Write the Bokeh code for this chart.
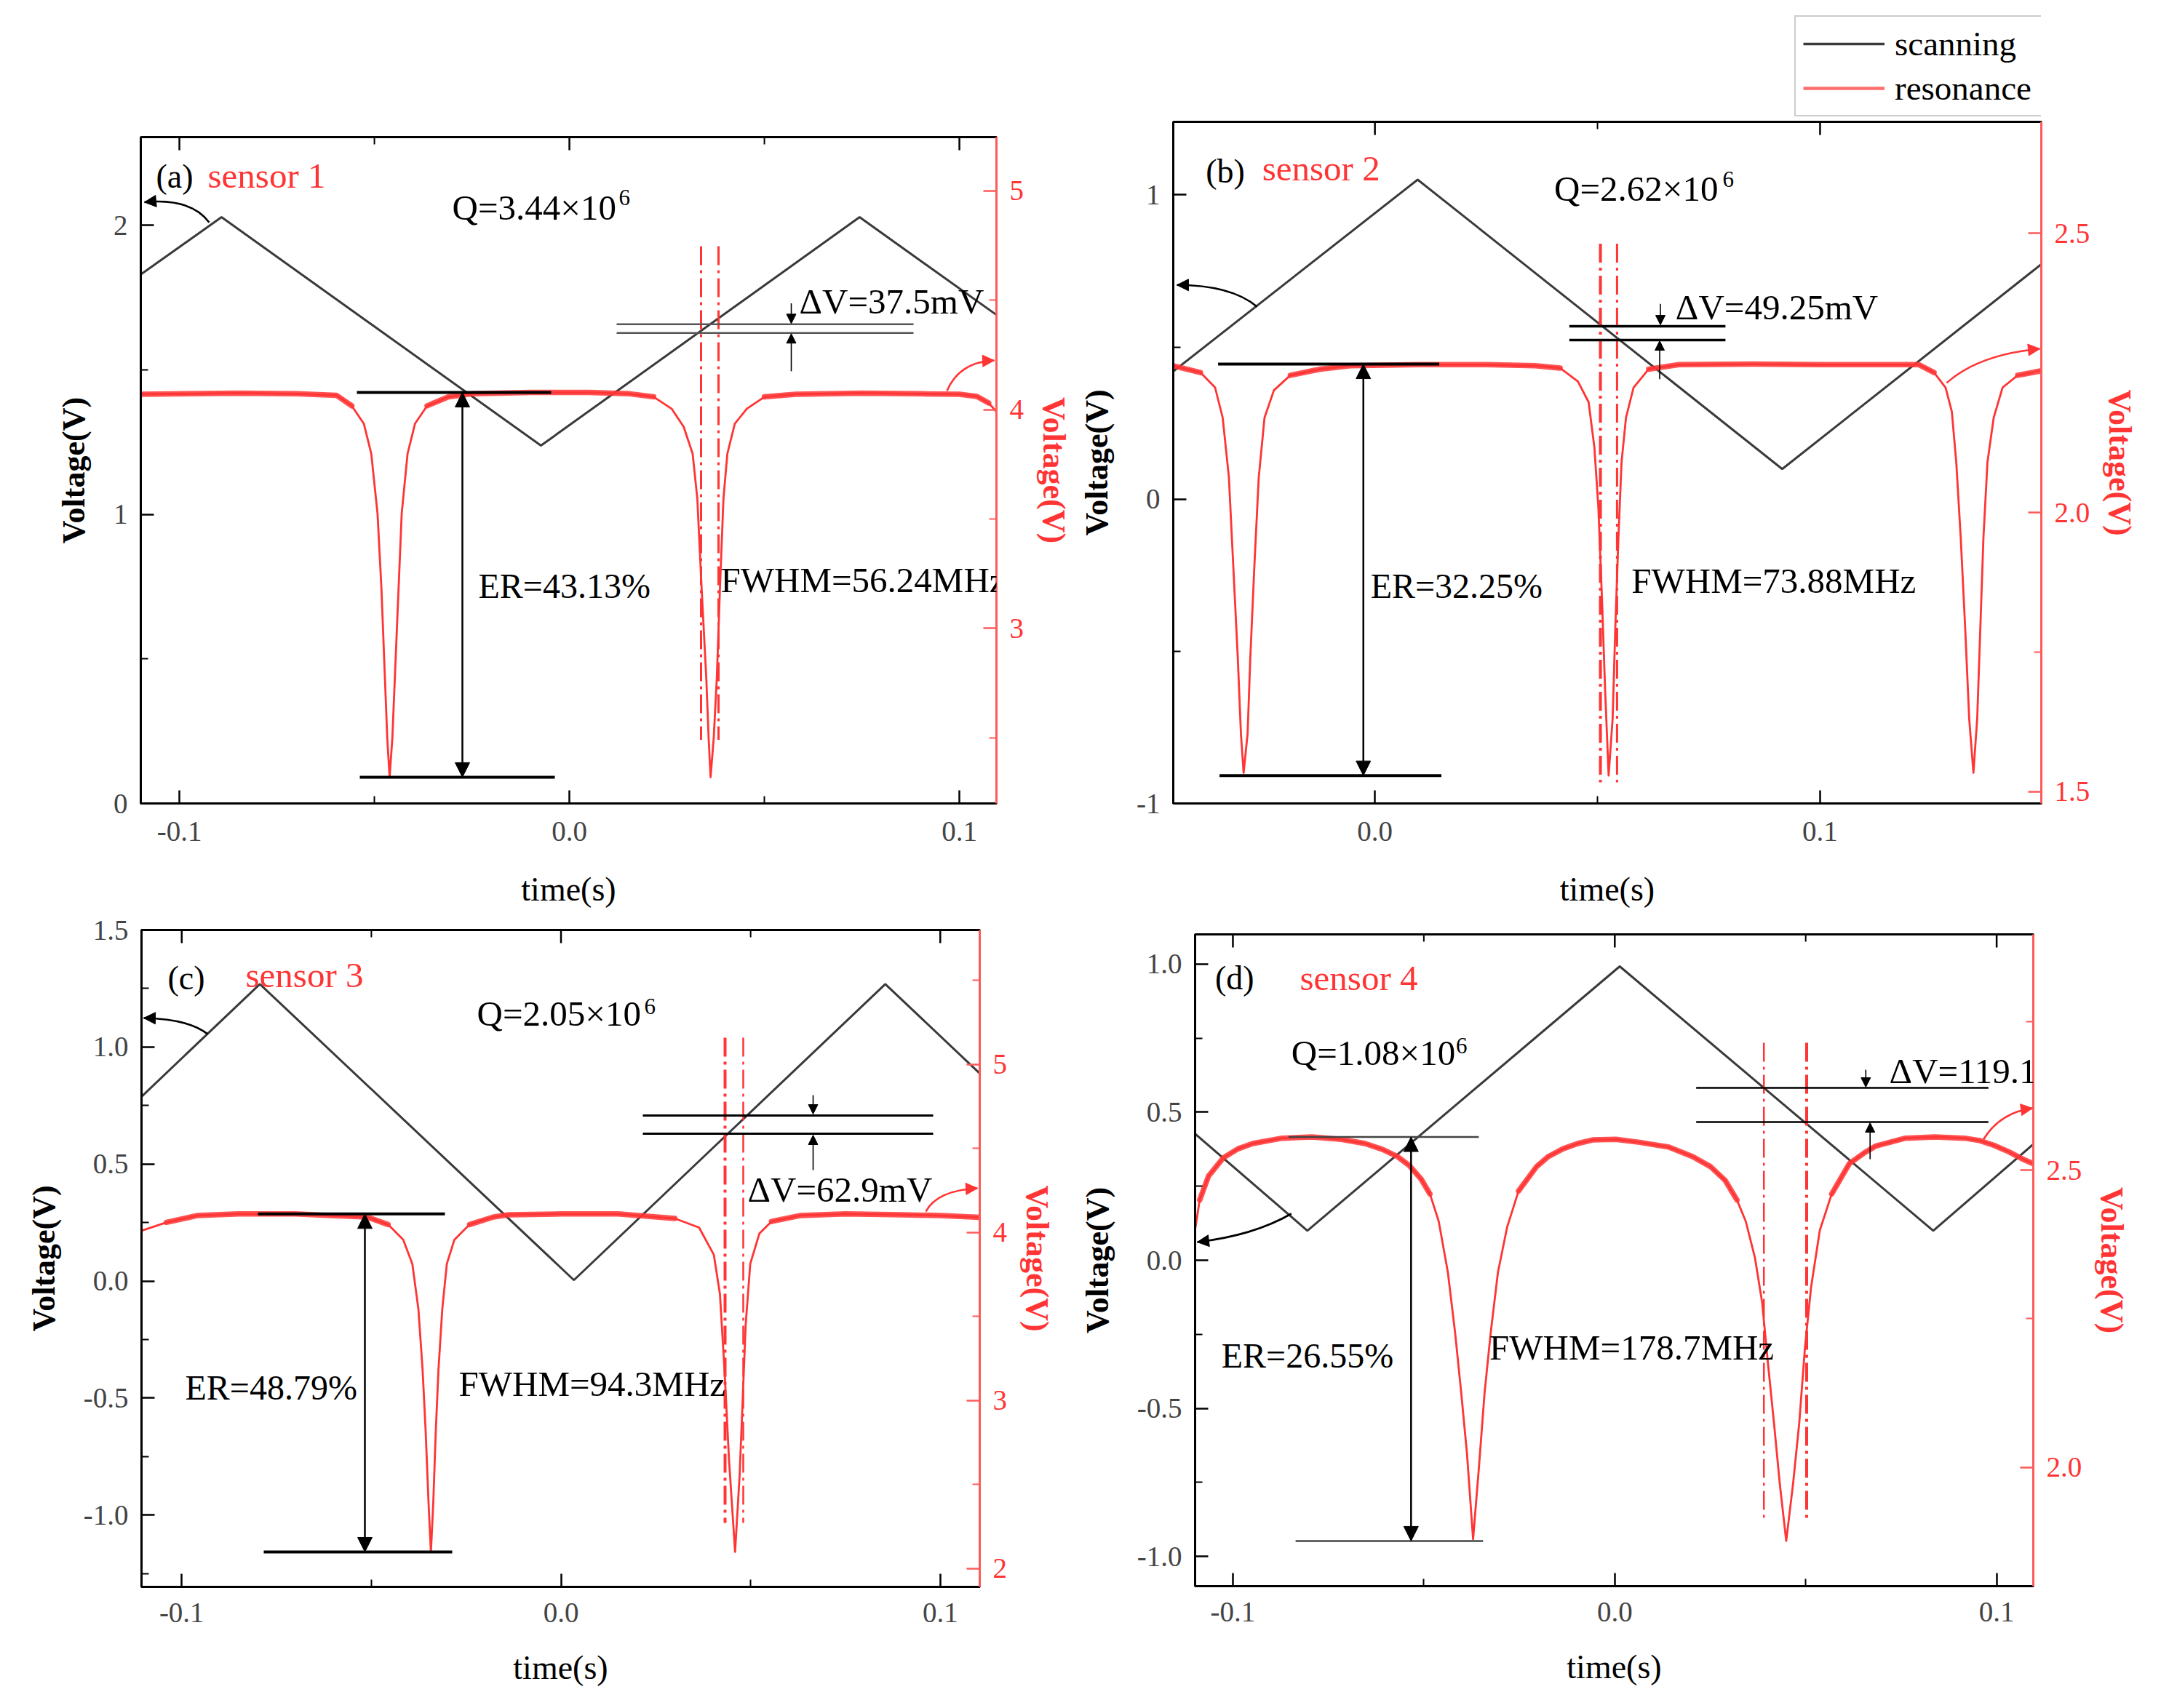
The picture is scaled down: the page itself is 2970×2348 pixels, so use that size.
import numpy as np
from bokeh.plotting import figure
from bokeh.models import (Range1d, LinearAxis, FixedTicker, CustomJSTickFormatter,
                          Label, Arrow, NormalHead, Legend, LegendItem)
from bokeh.layouts import column, row
from bokeh.embed import file_html
from bokeh.resources import INLINE

# ---------------- data ----------------
a_scan_t = [-0.1099, -0.0892, -0.0073, 0.0744, 0.1095]
a_scan_v = [1.83, 2.028, 1.238, 2.028, 1.69]
a_res_t = [-0.1099, -0.085, -0.070, -0.0597, -0.0558, -0.0527, -0.0508, -0.0492, -0.0482, -0.0473,
           -0.0467, -0.0461, -0.0454, -0.0446, -0.0438, -0.0430, -0.0415, -0.0396, -0.0365, -0.0310,
           -0.0249, -0.010, 0.005, 0.0155, 0.0216, 0.0262, 0.0293, 0.0316, 0.0328, 0.0339,
           0.0351, 0.0357, 0.0362, 0.0370, 0.0378, 0.0386, 0.0395, 0.0405, 0.0424, 0.0455,
           0.0500, 0.058, 0.075, 0.090, 0.1000, 0.1045, 0.1075, 0.1095]
a_res_v = [4.070, 4.075, 4.072, 4.065, 4.017, 3.935, 3.798, 3.525, 3.183, 2.772,
           2.498, 2.320, 2.498, 2.841, 3.183, 3.525, 3.798, 3.935, 4.017, 4.058,
           4.072, 4.078, 4.078, 4.072, 4.058, 4.004, 3.921, 3.798, 3.593, 3.183,
           2.772, 2.498, 2.320, 2.498, 2.772, 3.183, 3.593, 3.798, 3.935, 4.004,
           4.058, 4.070, 4.075, 4.072, 4.070, 4.060, 4.030, 3.990]

b_scan_t = [-0.0453, 0.0096, 0.0915, 0.1497]
b_scan_v = [0.42, 1.05, 0.099, 0.772]
b_res_t = [-0.0453, -0.0392, -0.0359, -0.0342, -0.0328, -0.0318, -0.0308, -0.0301, -0.0295, -0.0286,
           -0.0280, -0.0271, -0.0261, -0.0248, -0.0227, -0.0190, -0.0123, -0.0056, 0.010, 0.025,
           0.0360, 0.0416, 0.0456, 0.0480, 0.0493, 0.0502, 0.0510, 0.0517, 0.0525, 0.0534,
           0.0540, 0.0547, 0.0554, 0.0564, 0.0581, 0.0615, 0.0683, 0.085, 0.100, 0.1222,
           0.1256, 0.1282, 0.1296, 0.1306, 0.1316, 0.1326, 0.1335, 0.13445, 0.1353, 0.1360,
           0.1367, 0.1376, 0.1390, 0.1410, 0.1444, 0.1497]
b_res_v = [2.263, 2.251, 2.224, 2.170, 2.063, 1.901, 1.739, 1.604, 1.534, 1.604,
           1.739, 1.901, 2.063, 2.170, 2.219, 2.246, 2.257, 2.263, 2.265, 2.265,
           2.263, 2.259, 2.235, 2.198, 2.117, 2.009, 1.847, 1.685, 1.529, 1.631,
           1.793, 1.955, 2.090, 2.170, 2.224, 2.257, 2.265, 2.266, 2.265, 2.265,
           2.251, 2.224, 2.181, 2.090, 1.955, 1.793, 1.631, 1.534, 1.631, 1.793,
           1.955, 2.090, 2.170, 2.224, 2.246, 2.254]

c_scan_t = [-0.1106, -0.0794, 0.0034, 0.0855, 0.1104]
c_scan_v = [0.788, 1.269, 0.004, 1.269, 0.887]
c_res_t = [-0.1106, -0.104, -0.096, -0.085, -0.070, -0.0615, -0.0512, -0.0456, -0.0416, -0.0392,
           -0.0376, -0.0365, -0.0357, -0.0349, -0.0343, -0.0337, -0.0330, -0.0323, -0.0313, -0.0301,
           -0.0281, -0.0241, -0.0178, -0.0138, 0.000, 0.015, 0.0300, 0.0364, 0.0403, 0.0419,
           0.0431, 0.0443, 0.0459, 0.0471, 0.0479, 0.0487, 0.0499, 0.0523, 0.0555, 0.0632,
           0.075, 0.090, 0.100, 0.1104]
c_res_v = [4.010, 4.060, 4.100, 4.110, 4.110, 4.101, 4.092, 4.047, 3.957, 3.813,
           3.544, 3.185, 2.825, 2.377, 2.098, 2.377, 2.825, 3.185, 3.544, 3.813,
           3.957, 4.047, 4.092, 4.105, 4.110, 4.110, 4.083, 4.029, 3.867, 3.634,
           3.185, 2.646, 2.098, 2.556, 3.005, 3.454, 3.813, 3.993, 4.065, 4.101,
           4.110, 4.105, 4.100, 4.090]

d_scan_t = [-0.1099, -0.0805, 0.0013, 0.0834, 0.1096]
d_scan_v = [0.427, 0.10, 0.992, 0.10, 0.392]
d_res_t = [-0.1099, -0.1087, -0.1064, -0.1025, -0.0987, -0.0948, -0.0871, -0.0793, -0.0716, -0.0654,
           -0.0608, -0.0569, -0.0538, -0.0507, -0.0484, -0.0461, -0.0437, -0.0418, -0.0402, -0.0387,
           -0.0371, -0.0356, -0.0341, -0.0325, -0.0306, -0.0282, -0.0252, -0.0205, -0.0174, -0.0136,
           -0.0097, -0.0058, 0.0003, 0.0065, 0.0142, 0.0204, 0.0251, 0.0289, 0.0320, 0.0343,
           0.0367, 0.0386, 0.0401, 0.0417, 0.0432, 0.0449, 0.0467, 0.0483, 0.0498, 0.0514,
           0.0537, 0.0568, 0.0614, 0.0653, 0.0684, 0.0761, 0.0838, 0.0916, 0.0955, 0.0993,
           0.1032, 0.1071, 0.1096]
d_res_v = [2.400, 2.450, 2.490, 2.521, 2.536, 2.545, 2.554, 2.556, 2.552, 2.545,
           2.535, 2.523, 2.508, 2.485, 2.460, 2.414, 2.328, 2.226, 2.125, 2.023,
           1.879, 1.998, 2.125, 2.226, 2.328, 2.404, 2.465, 2.506, 2.523, 2.536,
           2.545, 2.551, 2.552, 2.547, 2.539, 2.523, 2.506, 2.483, 2.450, 2.414,
           2.353, 2.277, 2.176, 2.074, 1.973, 1.876, 1.973, 2.074, 2.201, 2.303,
           2.399, 2.460, 2.511, 2.529, 2.541, 2.554, 2.556, 2.554, 2.550, 2.542,
           2.531, 2.518, 2.511]

panel_letters = ["(a)", "(b)", "(c)", "(d)"]
sensor_names = ["sensor 1", "sensor 2", "sensor 3", "sensor 4"]
q_texts = ["Q=3.44×10", "Q=2.62×10", "Q=2.05×10", "Q=1.08×10"]
er_texts = ["ER=43.13%", "ER=32.25%", "ER=48.79%", "ER=26.55%"]
fwhm_texts = ["FWHM=56.24MHz", "FWHM=73.88MHz", "FWHM=94.3MHz", "FWHM=178.7MHz"]
dv_texts = ["ΔV=37.5mV", "ΔV=49.25mV", "ΔV=62.9mV", "ΔV=119.1"]
legend_labels = ["scanning", "resonance"]

# ---------------- styles ----------------
FONT = "Liberation Serif"
RED = "#ff3434"
RED_AX = "#ff5a5a"
BLACK = "#3a3a3a"
TICKGRAY = "#444444"


class Conv:
    def __init__(self, frame, xr, yr):
        self.L, self.R, self.T, self.B = frame
        self.xr, self.yr = xr, yr

    def x(self, px):
        return self.xr[0] + (px - self.L) / (self.R - self.L) * (self.xr[1] - self.xr[0])

    def y(self, py):
        return self.yr[0] + (self.B - py) / (self.B - self.T) * (self.yr[1] - self.yr[0])

    def dy(self, dpx):
        return dpx / (self.B - self.T) * (self.yr[1] - self.yr[0])


def style_axis(ax, color, label_color, ticks, minor, decimals, standoff=18):
    ax.ticker = FixedTicker(ticks=ticks, minor_ticks=minor)
    ax.formatter = CustomJSTickFormatter(code="return tick.toFixed(%d);" % decimals)
    ax.axis_line_color = color
    ax.axis_line_width = 3
    ax.major_tick_line_color = color
    ax.major_tick_line_width = 2.5
    ax.major_tick_in = 18
    ax.major_tick_out = 0
    ax.minor_tick_line_color = color
    ax.minor_tick_line_width = 2
    ax.minor_tick_in = 10
    ax.minor_tick_out = 0
    ax.major_label_text_font = FONT
    ax.major_label_text_color = label_color
    ax.major_label_text_font_size = "39px"
    ax.major_label_standoff = standoff


def make_panel(P):
    ox, oy = P["origin"]
    W, H = P["size"]
    L, R, T, B = P["frame"]
    fig = figure(width=W, height=H, x_range=Range1d(*P["xr"]), y_range=Range1d(*P["yl"]),
                 output_backend="svg", toolbar_location=None,
                 min_border_left=L - ox, min_border_right=ox + W - R,
                 min_border_top=T - oy, min_border_bottom=oy + H - B,
                 background_fill_color="white", border_fill_color="white",
                 outline_line_color="black", outline_line_width=3)
    fig.extra_y_ranges = {"r": Range1d(*P["yr"])}
    fig.xgrid.visible = False
    fig.ygrid.visible = False

    xb = fig.xaxis[0]
    style_axis(xb, "black", TICKGRAY, P["xt"], P["xm"], 1, standoff=P.get("xstand", 24))
    xb.axis_label = "time(s)"
    xb.axis_label_text_font = FONT
    xb.axis_label_text_font_size = "46px"
    xb.axis_label_text_font_style = "normal"
    xb.axis_label_text_color = "black"
    xb.axis_label_standoff = P.get("xlabstand", 36)

    yl = fig.yaxis[0]
    style_axis(yl, "black", TICKGRAY, P["ylt"], P["ylm"], P["yld"])
    yl.axis_label = "Voltage(V)"
    yl.axis_label_text_font = FONT
    yl.axis_label_text_font_size = "44px"
    yl.axis_label_text_font_style = "bold"
    yl.axis_label_text_color = "black"
    yl.axis_label_standoff = 27

    yr = LinearAxis(y_range_name="r")
    style_axis(yr, RED_AX, RED, P["yrt"], P["yrm"], P["yrd"])
    yr.axis_label = "Voltage(V)"
    yr.axis_label_text_font = FONT
    yr.axis_label_text_font_size = "44px"
    yr.axis_label_text_font_style = "bold"
    yr.axis_label_text_color = RED
    yr.axis_label_standoff = 14
    fig.add_layout(yr, "right")

    cv = Conv(P["frame"], P["xr"], P["yl"])

    # mirrored inward ticks on the top edge
    ytop = P["yl"][1]
    fig.segment(x0=P["xt"], x1=P["xt"], y0=[ytop] * len(P["xt"]), y1=[ytop - cv.dy(18)] * len(P["xt"]),
                line_color="black", line_width=2.5)
    fig.segment(x0=P["xm"], x1=P["xm"], y0=[ytop] * len(P["xm"]), y1=[ytop - cv.dy(10)] * len(P["xm"]),
                line_color="black", line_width=2)

    # scanning line
    scan = fig.line(P["scan_t"], P["scan_v"], line_color=BLACK, line_width=3)
    # resonance line (thin) and noisy band near the top (thick)
    rt = np.array(P["res_t"], dtype=float)
    rv = np.array(P["res_v"], dtype=float)
    band = np.where(rv >= P["band"], rv, np.nan)
    fig.line(rt, band, y_range_name="r", line_color=RED, line_width=7.5, line_alpha=0.85,
             line_join="round", line_cap="round")
    res = fig.line(rt, rv, y_range_name="r", line_color=RED, line_width=2.8, line_join="round")

    A = P["ann"]

    def text(px, py, s, color="black", size=46):
        fig.add_layout(Label(x=cv.x(px), y=cv.y(py), text=s, text_color=color, text_font=FONT,
                             text_font_size="%dpx" % size, text_baseline="middle", text_align="left"))

    text(*A["letter"], P["letter"], size=46)
    text(*A["sensor"], P["sensor"], color=RED, size=49)
    text(*A["q"], P["q"], size=49)
    text(*A["sup"], "6", size=31)
    text(*A["er_text"], P["er"], size=48)
    text(*A["fwhm_text"], P["fwhm"], size=49)
    text(*A["dv_text"], P["dv"], size=49)

    # ER double arrow (top at resonance maximum, bottom at resonance minimum)
    top, bot = float(rv.max()), float(rv.min())
    (tx0, tx1), (bx0, bx1) = A["er_lines"]
    fig.segment(x0=[cv.x(tx0), cv.x(bx0)], y0=[top, bot], x1=[cv.x(tx1), cv.x(bx1)], y1=[top, bot],
                y_range_name="r", line_color=A["er_color"], line_width=A["er_w"])
    xa = cv.x(A["er_x"])
    fig.add_layout(Arrow(start=NormalHead(size=20, fill_color="black", line_color="black"),
                         end=NormalHead(size=20, fill_color="black", line_color="black"),
                         x_start=xa, y_start=top, x_end=xa, y_end=bot, y_range_name="r",
                         line_color="black", line_width=2.5))

    # FWHM dash-dot markers
    for px, w in zip(A["dd_x"], A["dd_w"]):
        fig.line([cv.x(px), cv.x(px)], [cv.y(A["dd_y"][0]), cv.y(A["dd_y"][1])],
                 line_color=RED, line_width=w, line_dash="26 7 4 7")

    # Delta V lines and small arrows
    (lx0, lx1) = A["dv_x"]
    for py in A["dv_y"]:
        fig.line([cv.x(lx0), cv.x(lx1)], [cv.y(py), cv.y(py)], line_color=A["dv_color"], line_width=A["dv_w"])
    for (px, pfar, pnear) in A["dv_arrows"]:
        fig.add_layout(Arrow(end=NormalHead(size=13, fill_color="black", line_color="black"),
                             x_start=cv.x(px), y_start=cv.y(pfar), x_end=cv.x(px), y_end=cv.y(pnear),
                             line_color="black", line_width=1.6))

    # curved pointer arrows
    for (s, c, e, color) in [(A["barrow"][0], A["barrow"][1], A["barrow"][2], "black"),
                             (A["rarrow"][0], A["rarrow"][1], A["rarrow"][2], RED)]:
        fig.quadratic(x0=[cv.x(s[0])], y0=[cv.y(s[1])], x1=[cv.x(e[0])], y1=[cv.y(e[1])],
                      cx=[cv.x(c[0])], cy=[cv.y(c[1])], line_color=color, line_width=2.6)
        fig.add_layout(Arrow(end=NormalHead(size=16, fill_color=color, line_color=color),
                             x_start=cv.x(c[0]), y_start=cv.y(c[1]), x_end=cv.x(e[0]), y_end=cv.y(e[1]),
                             line_alpha=0))
    return fig, scan, res


P_a = dict(origin=(0, 0), size=(1480, 1250), frame=(193, 1369, 188, 1110),
           xr=(-0.1099, 0.1095), yl=(0.0, 2.305), yr=(2.20, 5.245),
           xt=[-0.1, 0.0, 0.1], xm=[-0.05, 0.05],
           ylt=[0, 1, 2], ylm=[0.5, 1.5], yld=0,
           yrt=[3, 4, 5], yrm=[2.5, 3.5, 4.5], yrd=0,
           scan_t=a_scan_t, scan_v=a_scan_v, res_t=a_res_t, res_v=a_res_v, band=4.01,
           xstand=25, xlabstand=38,
           letter=panel_letters[0], sensor=sensor_names[0], q=q_texts[0], er=er_texts[0],
           fwhm=fwhm_texts[0], dv=dv_texts[0],
           ann=dict(letter=(214, 242), sensor=(285, 241), q=(621, 286), sup=(850, 272),
                    er_text=(657, 809), fwhm_text=(990, 801), dv_text=(1098, 415),
                    er_lines=((490, 757), (494, 762)), er_x=635, er_color="black", er_w=4,
                    dd_x=(963, 987), dd_w=(3, 3), dd_y=(339, 1022),
                    dv_x=(847, 1255), dv_y=(447, 459), dv_color="#555555", dv_w=2.5,
                    dv_arrows=[(1087, 418, 446), (1087, 512, 460)],
                    barrow=((287, 306), (262, 272), (198, 278)),
                    rarrow=((1301, 539), (1318, 499), (1366, 497))))

LEG_H = 164
P_b = dict(origin=(1480, LEG_H), size=(1482, 1250 - LEG_H), frame=(1604, 2805, 167, 1107),
           xr=(-0.0453, 0.1497), yl=(-1.0, 1.24), yr=(1.479, 2.70),
           xt=[0.0, 0.1], xm=[0.05],
           ylt=[-1, 0, 1], ylm=[-0.5, 0.5], yld=0,
           yrt=[1.5, 2.0, 2.5], yrm=[1.75, 2.25], yrd=1,
           scan_t=b_scan_t, scan_v=b_scan_v, res_t=b_res_t, res_v=b_res_v, band=2.24,
           xstand=25, xlabstand=38,
           letter=panel_letters[1], sensor=sensor_names[1], q=q_texts[1], er=er_texts[1],
           fwhm=fwhm_texts[1], dv=dv_texts[1],
           ann=dict(letter=(1649, 235), sensor=(1727, 231), q=(2131, 259), sup=(2364, 246),
                    er_text=(1877, 807), fwhm_text=(2238, 800), dv_text=(2299, 423),
                    er_lines=((1666, 1972), (1668, 1975)), er_x=1867, er_color="black", er_w=4,
                    dd_x=(2195, 2218), dd_w=(4, 3), dd_y=(335, 1078),
                    dv_x=(2152, 2368), dv_y=(449, 468), dv_color="black", dv_w=3.5,
                    dv_arrows=[(2278, 418, 447), (2277, 522, 469)],
                    barrow=((1720, 422), (1684, 392), (1609, 392)),
                    rarrow=((2674, 527), (2718, 488), (2803, 480))))

P_c = dict(origin=(0, 1250), size=(1480, 1080), frame=(194, 1346, 1278, 2181),
           xr=(-0.1106, 0.1104), yl=(-1.307, 1.5), yr=(1.89, 5.80),
           xt=[-0.1, 0.0, 0.1], xm=[-0.05, 0.05],
           ylt=[-1.0, -0.5, 0.0, 0.5, 1.0, 1.5], ylm=[-1.25, -0.75, -0.25, 0.25, 0.75, 1.25], yld=1,
           yrt=[2, 3, 4, 5], yrm=[2.5, 3.5, 4.5, 5.5], yrd=0,
           scan_t=c_scan_t, scan_v=c_scan_v, res_t=c_res_t, res_v=c_res_v, band=4.04,
           xstand=22, xlabstand=34,
           letter=panel_letters[2], sensor=sensor_names[2], q=q_texts[2], er=er_texts[2],
           fwhm=fwhm_texts[2], dv=dv_texts[2],
           ann=dict(letter=(230, 1344), sensor=(337, 1340), q=(655, 1393), sup=(885, 1383),
                    er_text=(254, 1907), fwhm_text=(630, 1902), dv_text=(1027, 1635),
                    er_lines=((354, 611), (362, 621)), er_x=501, er_color="black", er_w=4,
                    dd_x=(996, 1021), dd_w=(4, 2.5), dd_y=(1426, 2093),
                    dv_x=(883, 1282), dv_y=(1533, 1558), dv_color="black", dv_w=3,
                    dv_arrows=[(1117, 1505, 1531), (1117, 1608, 1560)],
                    barrow=((285, 1421), (258, 1400), (197, 1399)),
                    rarrow=((1272, 1665), (1287, 1636), (1343, 1633))))

P_d = dict(origin=(1480, 1250), size=(1482, 1080), frame=(1618, 2794, 1284, 2180),
           xr=(-0.1099, 0.1096), yl=(-1.1, 1.1), yr=(1.80, 2.897),
           xt=[-0.1, 0.0, 0.1], xm=[-0.05, 0.05],
           ylt=[-1.0, -0.5, 0.0, 0.5, 1.0], ylm=[-0.75, -0.25, 0.25, 0.75], yld=1,
           yrt=[2.0, 2.5], yrm=[2.25, 2.75], yrd=1,
           scan_t=d_scan_t, scan_v=d_scan_v, res_t=d_res_t, res_v=d_res_v, band=2.44,
           xstand=22, xlabstand=34,
           letter=panel_letters[3], sensor=sensor_names[3], q=q_texts[3], er=er_texts[3],
           fwhm=fwhm_texts[3], dv=dv_texts[3],
           ann=dict(letter=(1646, 1344), sensor=(1765, 1344), q=(1753, 1447), sup=(1984, 1437),
                    er_text=(1655, 1863), fwhm_text=(2031, 1852), dv_text=(2592, 1472),
                    er_lines=((1749, 2016), (1759, 2022)), er_x=1921, er_color="#444444", er_w=2.5,
                    dd_x=(2416, 2476), dd_w=(2.5, 4), dd_y=(1433, 2093),
                    dv_x=(2321, 2731), dv_y=(1495, 1542), dv_color="black", dv_w=2.5,
                    dv_arrows=[(2559, 1470, 1494), (2565, 1593, 1543)],
                    barrow=((1753, 1668), (1700, 1698), (1621, 1707)),
                    rarrow=((2724, 1566), (2747, 1529), (2793, 1523))))

fa, _, _ = make_panel(P_a)
fb, _, _ = make_panel(P_b)
fc, _, _ = make_panel(P_c)
fd, _, _ = make_panel(P_d)

# legend strip above panel (b): its own small canvas (its frame is aligned with panel (b)'s frame)
leg_fig = figure(width=1482, height=LEG_H, x_range=Range1d(0, 1), y_range=Range1d(0, 1),
                 output_backend="svg", toolbar_location=None,
                 x_axis_location=None, y_axis_location=None,
                 min_border_left=0, min_border_right=0, min_border_top=0, min_border_bottom=0,
                 background_fill_color="white", border_fill_color="white", outline_line_color=None)
leg_fig.xgrid.visible = False
leg_fig.ygrid.visible = False
# style carriers for the legend swatches (placed outside the visible range)
k_scan = leg_fig.line(x=[-5, -4], y=[-5, -5], line_color=BLACK, line_width=3.5)
k_res = leg_fig.line(x=[-5, -4], y=[-5, -5], line_color="#ff6e6e", line_width=4.5)
frame_left_b = P_b["frame"][0]
leg = Legend(items=[LegendItem(label=legend_labels[0], renderers=[k_scan]),
                    LegendItem(label=legend_labels[1], renderers=[k_res])],
             location=(2458 - frame_left_b, LEG_H - 160), orientation="vertical",
             label_text_font=FONT, label_text_font_size="47px", label_text_color="black",
             glyph_width=112, glyph_height=50, label_height=50, label_width=196, label_standoff=14,
             spacing=7, padding=10, margin=0,
             border_line_color="#9a9a9a", border_line_width=2.5,
             background_fill_color="white", background_fill_alpha=1.0)
leg_fig.add_layout(leg, "center")

layout = column(row(column(fa), column(leg_fig, fb)), row(column(fc), column(fd)))
open("out.html", "w").write(file_html(layout, INLINE))
